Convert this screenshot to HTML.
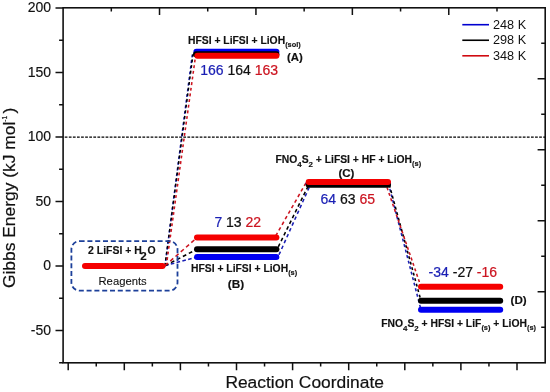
<!DOCTYPE html>
<html><head><meta charset="utf-8"><title>Gibbs Energy Diagram</title>
<style>html,body{margin:0;padding:0;background:#fff}body{width:550px;height:392px;overflow:hidden}</style></head>
<body>
<svg width="550" height="392" viewBox="0 0 550 392" style="display:block">
<rect width="550" height="392" fill="#fff"/>
<rect x="63.1" y="7.8" width="482.10" height="355.00" fill="none" stroke="#111" stroke-width="1.6"/>
<path d="M55.50 7.92H63.1 M59.10 40.18H63.1 M55.50 72.44H63.1 M59.10 104.7H63.1 M55.50 136.96H63.1 M59.10 169.22H63.1 M55.50 201.48H63.1 M59.10 233.74H63.1 M55.50 266.0H63.1 M59.10 298.26H63.1 M55.50 330.52H63.1 M59.10 362.78H63.1 M541.20 43.30H545.2 M537.60 78.80H545.2 M541.20 114.30H545.2 M537.60 149.80H545.2 M541.20 185.30H545.2 M537.60 220.80H545.2 M541.20 256.30H545.2 M537.60 291.80H545.2 M541.20 327.30H545.2 M111.31 7.8V11.60 M159.52 7.8V15.00 M207.73 7.8V11.60 M255.94 7.8V15.00 M304.15 7.8V11.60 M352.36 7.8V15.00 M400.57 7.8V11.60 M448.78 7.8V15.00 M496.99 7.8V11.60 M68.20 362.8V370.20 M96.25 362.8V366.60 M124.30 362.8V370.20 M152.35 362.8V366.60 M180.40 362.8V370.20 M208.45 362.8V366.60 M236.50 362.8V370.20 M264.55 362.8V366.60 M292.60 362.8V370.20 M320.65 362.8V366.60 M348.70 362.8V370.20 M376.75 362.8V366.60 M404.80 362.8V370.20 M432.85 362.8V366.60 M460.90 362.8V370.20 M488.95 362.8V366.60 M517.00 362.8V370.20" stroke="#111" stroke-width="1.5" fill="none"/>
<g font-family="'Liberation Sans', Arial, sans-serif" font-size="14" fill="#111" stroke="#111" stroke-width="0.15" text-anchor="end">
<text x="51" y="12.02">200</text>
<text x="51" y="76.54">150</text>
<text x="51" y="141.06">100</text>
<text x="51" y="205.58">50</text>
<text x="51" y="270.10">0</text>
<text x="51" y="334.62">-50</text>
</g>
<path d="M64.7 137.15H545.2" stroke="#000" stroke-width="1.25" stroke-dasharray="2.75 1.34" fill="none"/>
<path d="M165.0 265.7L192.6 52.49" stroke="#1a1fb4" stroke-width="1.55" stroke-dasharray="2.9 2.8" stroke-dashoffset="0.9" fill="none"/>
<path d="M165.0 265.7L193.0 54.37" stroke="#000" stroke-width="1.55" stroke-dasharray="2.9 2.8" stroke-dashoffset="0" fill="none"/>
<path d="M166.3 265.7L195.6 55.66" stroke="#cc1420" stroke-width="1.55" stroke-dasharray="2.9 2.8" stroke-dashoffset="0" fill="none"/>
<path d="M165.0 265.7L197 256.97" stroke="#1a1fb4" stroke-width="1.55" stroke-dasharray="3.6 2.4" stroke-dashoffset="0" fill="none"/>
<path d="M165.0 265.7L197 249.22" stroke="#000" stroke-width="1.55" stroke-dasharray="3.8 2.9" stroke-dashoffset="0" fill="none"/>
<path d="M165.0 265.7L197 237.61" stroke="#cc1420" stroke-width="1.55" stroke-dasharray="4 3" stroke-dashoffset="0" fill="none"/>
<path d="M279.0 254.8L310.4 184.7" stroke="#1a1fb4" stroke-width="1.55" stroke-dasharray="3.5 2.9" stroke-dashoffset="0" fill="none"/>
<path d="M278.3 246.8L309.4 183.5" stroke="#000" stroke-width="1.55" stroke-dasharray="3.5 2.9" stroke-dashoffset="0" fill="none"/>
<path d="M275.7 235.9L307.5 180.2" stroke="#cc1420" stroke-width="1.55" stroke-dasharray="3.5 2.9" stroke-dashoffset="0" fill="none"/>
<path d="M388.4 183.41L421 309.87" stroke="#1a1fb4" stroke-width="1.55" stroke-dasharray="3 2.7" stroke-dashoffset="0" fill="none"/>
<path d="M389.3 184.7L421 300.84" stroke="#000" stroke-width="1.55" stroke-dasharray="3 2.7" stroke-dashoffset="0" fill="none"/>
<path d="M385.2 182.12L421 286.65" stroke="#cc1420" stroke-width="1.55" stroke-dasharray="3 2.7" stroke-dashoffset="0" fill="none"/>
<path d="M85 266.0H162.5" stroke="#f50000" stroke-width="6" stroke-linecap="round" fill="none"/>
<path d="M196.4 51.79H276.4" stroke="#0000f2" stroke-width="6" stroke-linecap="round" fill="none"/>
<path d="M196.0 54.37H276.4" stroke="#000" stroke-width="6" stroke-linecap="round" fill="none"/>
<path d="M197.4 55.66H276.4" stroke="#f50000" stroke-width="6" stroke-linecap="round" fill="none"/>
<path d="M197 256.97H276.4" stroke="#0000f2" stroke-width="6" stroke-linecap="round" fill="none"/>
<path d="M197 249.22H276.4" stroke="#000" stroke-width="6" stroke-linecap="round" fill="none"/>
<path d="M197 237.61H276.4" stroke="#f50000" stroke-width="6" stroke-linecap="round" fill="none"/>
<path d="M308.7 183.41H388" stroke="#0000f2" stroke-width="6" stroke-linecap="round" fill="none"/>
<path d="M308.7 184.7H388" stroke="#000" stroke-width="6" stroke-linecap="round" fill="none"/>
<path d="M308.7 182.12H388" stroke="#f50000" stroke-width="6" stroke-linecap="round" fill="none"/>
<path d="M421 309.87H500.2" stroke="#0000f2" stroke-width="6" stroke-linecap="round" fill="none"/>
<path d="M421 300.84H500.2" stroke="#000" stroke-width="6" stroke-linecap="round" fill="none"/>
<path d="M421 286.65H500.2" stroke="#f50000" stroke-width="6" stroke-linecap="round" fill="none"/>
<rect x="71.4" y="241.1" width="106.1" height="49.6" rx="8.2" ry="8.2" fill="none" stroke="#1d409a" stroke-width="1.8" stroke-dasharray="5 2.8"/>
<text x="200.2" y="75.3" font-family="'Liberation Sans', Arial, sans-serif" font-size="14"><tspan fill="#1a1fb4" stroke="#1a1fb4" stroke-width="0.22">166</tspan> <tspan fill="#111" stroke="#111" stroke-width="0.22">164</tspan> <tspan fill="#cc1420" stroke="#cc1420" stroke-width="0.22">163</tspan></text>
<text x="214.4" y="227" font-family="'Liberation Sans', Arial, sans-serif" font-size="14"><tspan fill="#1a1fb4" stroke="#1a1fb4" stroke-width="0.22">7</tspan> <tspan fill="#111" stroke="#111" stroke-width="0.22">13</tspan> <tspan fill="#cc1420" stroke="#cc1420" stroke-width="0.22">22</tspan></text>
<text x="320.5" y="204" font-family="'Liberation Sans', Arial, sans-serif" font-size="14"><tspan fill="#1a1fb4" stroke="#1a1fb4" stroke-width="0.22">64</tspan> <tspan fill="#111" stroke="#111" stroke-width="0.22">63</tspan> <tspan fill="#cc1420" stroke="#cc1420" stroke-width="0.22">65</tspan></text>
<text x="428.6" y="277.2" font-family="'Liberation Sans', Arial, sans-serif" font-size="14"><tspan fill="#1a1fb4" stroke="#1a1fb4" stroke-width="0.22">-34</tspan> <tspan fill="#111" stroke="#111" stroke-width="0.22">-27</tspan> <tspan fill="#cc1420" stroke="#cc1420" stroke-width="0.22">-16</tspan></text>
<g font-family="'Liberation Sans', Arial, sans-serif" font-weight="bold" font-size="10.35" fill="#111" stroke="#111" stroke-width="0.15">
<text x="188" y="43.9">HFSI + LiFSI + LiOH<tspan dy="3.0" font-size="7.4">(sol)</tspan></text>
<text x="287" y="61.3" font-size="11.4">(A)</text>
<text x="191" y="272.4">HFSI + LiFSI + LiOH<tspan dy="3.0" font-size="7.4">(s)</tspan></text>
<text x="227.8" y="288.2" font-size="11.8">(B)</text>
<text x="275.4" y="163.4">FNO<tspan dy="3.8" font-size="7.9">4</tspan><tspan dy="-3.8">S</tspan><tspan dy="3.8" font-size="7.9">2</tspan><tspan dy="-3.8"> + LiFSI + HF + LiOH</tspan><tspan dy="3.0" font-size="7.4">(s)</tspan></text>
<text x="338.4" y="176.6" font-size="11.6">(C)</text>
<text x="381.2" y="327.0">FNO<tspan dy="3.8" font-size="7.9">4</tspan><tspan dy="-3.8">S</tspan><tspan dy="3.8" font-size="7.9">2</tspan><tspan dy="-3.8"> + HFSI + LiF</tspan><tspan dy="3.0" font-size="7.4">(s)</tspan><tspan dy="-3.0"> + LiOH</tspan><tspan dy="3.0" font-size="7.4">(s)</tspan></text>
<text x="510.6" y="304.2" font-size="11.6">(D)</text>
<text x="88.1" y="254.2" font-size="10.45">2 LiFSI + H<tspan dx="-1.5" dy="5.6" font-size="11.6">2</tspan><tspan dy="-5.6" dx="0.7">O</tspan></text>
</g>
<text x="98.5" y="284.8" font-family="'Liberation Sans', Arial, sans-serif" font-size="11.25" fill="#111" stroke="#111" stroke-width="0.1">Reagents</text>
<path d="M462.3 24.70H489" stroke="#0000d0" stroke-width="1.6" fill="none"/>
<text x="493" y="28.90" font-family="'Liberation Sans', Arial, sans-serif" font-size="12.7" fill="#111">248 K</text>
<path d="M462.3 40.25H489" stroke="#000" stroke-width="1.6" fill="none"/>
<text x="493" y="44.45" font-family="'Liberation Sans', Arial, sans-serif" font-size="12.7" fill="#111">298 K</text>
<path d="M462.3 55.80H489" stroke="#d00a10" stroke-width="1.6" fill="none"/>
<text x="493" y="60.00" font-family="'Liberation Sans', Arial, sans-serif" font-size="12.7" fill="#111">348 K</text>
<text x="225.4" y="387.6" font-family="'Liberation Sans', Arial, sans-serif" font-size="17.4" fill="#111" stroke="#111" stroke-width="0.2">Reaction Coordinate</text>
<text transform="translate(15.2 288.1) rotate(-90)" font-family="'Liberation Sans', Arial, sans-serif" font-size="17.42" fill="#111" stroke="#111" stroke-width="0.2">Gibbs Energy (kJ mol<tspan dy="-8.5" font-size="6.5">-1</tspan><tspan dy="8.5" dx="2.5">)</tspan></text>
</svg>
</body></html>
